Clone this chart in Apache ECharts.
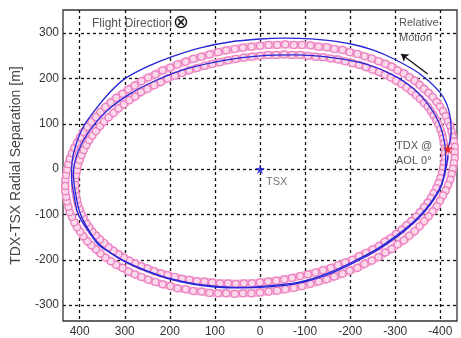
<!DOCTYPE html>
<html>
<head>
<meta charset="utf-8">
<script src="https://cdn.jsdelivr.net/npm/echarts@6/dist/echarts.min.js"></script>
<style>
html,body{margin:0;padding:0;background:#fff;}
#chart{width:461px;height:338px;}
</style>
</head>
<body>
<div id="chart"></div>
<script>
// ---- data ----
const xTicks = [-400, -300, -200, -100, 0, 100, 200, 300, 400];
const yTicks = [-300, -200, -100, 0, 100, 200, 300];

// pink open-marker band, inner row
const pinkInner = [
  [410,-35],[410,-24],[408,-13],[406,-2],[404,9],[400,20],[396,31],[391,42],[385,53],[379,64],[372,74],[364,84],[355,95],[346,105],[336,114],[325,124],[314,134],[302,143],[290,152],[277,160],[264,170],[250,177],[235,185],[220,192],[205,200],[189,206],[173,212],[157,218],[140,223],[123,228],[106,232],[89,236],[71,240],[54,243],[36,246],[18,248],
  [0,250],[-18,252],[-36,252],[-54,253],[-71,252],[-89,252],[-106,250],[-123,248],[-140,247],[-157,244],[-173,242],[-189,238],[-205,234],[-220,230],[-235,225],[-250,219],[-264,214],[-277,208],[-290,202],[-302,195],[-314,188],[-325,180],[-336,172],[-346,163],[-355,155],[-364,146],[-372,138],[-379,128],[-385,119],[-391,108],[-396,99],[-400,88],[-404,77],[-406,68],[-408,57],[-410,46],
  [-410,35],[-410,24],[-408,13],[-406,2],[-404,-9],[-400,-20],[-396,-31],[-391,-42],[-385,-53],[-379,-64],[-372,-74],[-364,-84],[-355,-95],[-346,-105],[-336,-114],[-325,-124],[-314,-134],[-302,-143],[-290,-152],[-277,-160],[-264,-170],[-250,-177],[-235,-185],[-220,-192],[-205,-200],[-189,-206],[-173,-212],[-157,-218],[-140,-223],[-123,-228],[-106,-232],[-89,-236],[-71,-240],[-54,-243],[-36,-246],[-18,-248],
  [0,-250],[18,-252],[36,-252],[54,-253],[71,-252],[89,-252],[106,-250],[123,-248],[140,-247],[157,-244],[173,-242],[189,-238],[205,-234],[220,-230],[235,-225],[250,-219],[264,-214],[277,-208],[290,-202],[302,-195],[314,-188],[325,-180],[336,-172],[346,-163],[355,-155],[364,-146],[372,-138],[379,-128],[385,-119],[391,-108],[396,-99],[400,-88],[404,-77],[406,-68],[408,-57],[410,-46],[410,-35]
];
// pink open-marker band, outer row
const pinkOuter = [
  [432,-37],[432,-25],[430,-13],[428,-1],[425,11],[422,23],[417,35],[412,47],[406,58],[399,70],[392,82],[383,93],[374,104],[364,115],[354,126],[343,137],[331,147],[319,157],[305,166],[292,176],[278,184],[263,194],[248,202],[232,209],[216,218],[199,224],[183,231],[165,237],[148,243],[130,248],[112,253],[93,258],[75,262],[56,265],[38,268],[19,270],
  [0,272],[-19,274],[-38,274],[-56,275],[-75,274],[-93,274],[-112,273],[-130,270],[-148,269],[-165,265],[-183,263],[-199,258],[-216,254],[-232,249],[-248,244],[-263,238],[-278,232],[-292,226],[-305,218],[-319,211],[-331,203],[-343,195],[-354,186],[-364,177],[-374,168],[-383,159],[-392,148],[-399,138],[-406,128],[-412,117],[-417,105],[-422,95],[-425,83],[-428,71],[-430,61],[-432,49],
  [-432,37],[-432,25],[-430,13],[-428,1],[-425,-11],[-422,-23],[-417,-35],[-412,-47],[-406,-58],[-399,-70],[-392,-82],[-383,-93],[-374,-104],[-364,-115],[-354,-126],[-343,-137],[-331,-147],[-319,-157],[-305,-166],[-292,-176],[-278,-184],[-263,-194],[-248,-202],[-232,-209],[-216,-218],[-199,-224],[-183,-231],[-165,-237],[-148,-243],[-130,-248],[-112,-253],[-93,-258],[-75,-262],[-56,-265],[-38,-268],[-19,-270],
  [0,-272],[19,-274],[38,-274],[56,-275],[75,-274],[93,-274],[112,-273],[130,-270],[148,-269],[165,-265],[183,-263],[199,-258],[216,-254],[232,-249],[248,-244],[263,-238],[278,-232],[292,-226],[305,-218],[319,-211],[331,-203],[343,-195],[354,-186],[364,-177],[374,-168],[383,-159],[392,-148],[399,-138],[406,-128],[412,-117],[417,-105],[422,-95],[425,-83],[428,-71],[430,-61],[432,-49],[432,-37]
];
// blue relative-motion track, outer pass (starts at TDX @ AOL 0)
const blueOuter = [
  [-417,45],[-424,80],[-419,129],[-400,168],[-352,212],[-297,243],[-250,263],[-202,276],[-150,284],[-98,288],[-50,289],[0,287],[64,281],[130,268],[198,247],[250,226],[302,198],[340,162],[370,125],[391,95],[408,55],[417,15],[418,-20],[413,-55],[404,-98],[382,-135],[360,-165],[330,-186],[301,-203],[255,-223],[205,-240],[150,-252],[101,-258],[50,-261],[0,-259],[-84,-250],[-150,-230],[-209,-203],[-260,-176],[-305,-145],[-350,-107],[-380,-72],[-402,-35],[-412,0],[-417,30]
];
// blue relative-motion track, inner pass
const blueInner = [
  [-412,10],[-410,55],[-398,100],[-375,140],[-340,178],[-290,210],[-230,233],[-160,246],[-80,252],[0,250],[80,240],[160,222],[230,196],[290,165],[340,128],[380,82],[405,35],[414,-10],[408,-60],[398,-100],[378,-137],[356,-166],[326,-188],[297,-205],[252,-225],[202,-242],[148,-254],[100,-260],[50,-262],[0,-261],[-84,-252],[-150,-233],[-209,-206],[-260,-179],[-305,-148],[-350,-110],[-380,-75],[-402,-38],[-412,10]
];
const tsxPoint = [[0, 0]];
const tdxPoint = [[-417, 45]];
const motionArrow = [[-372, 210], [-313, 254]];

const STAR = 'path://M50,0 L61,35 L98,35 L68,57 L79,91 L50,70 L21,91 L32,57 L2,35 L39,35 Z';
const FONT = 'Liberation Sans';

const chart = echarts.init(document.getElementById('chart'), null, {renderer: 'canvas'});

const pinkSeries = (d) => ({
  type: 'line', data: d, smooth: 0.3, symbol: 'circle', symbolSize: 7, showAllSymbol: true,
  lineStyle: {color: '#f4b3d6', width: 8},
  itemStyle: {color: '#fbd8ea', borderColor: '#eb7fc0', borderWidth: 1.2},
  emphasis: {disabled: true}, z: 2, animation: false
});
const blueSeries = (d) => ({
  type: 'line', data: d, smooth: 0.3, showSymbol: false,
  lineStyle: {color: '#2626d6', width: 1.3},
  emphasis: {disabled: true}, z: 3, animation: false
});

chart.setOption({
  animation: false,
  grid: {left: 63, right: 4, top: 10, bottom: 17, show: true, borderColor: '#333', borderWidth: 1.3, backgroundColor: '#fff'},
  xAxis: {
    type: 'value', inverse: true, min: -437, max: 437,
    axisLine: {show: false},
    axisTick: {show: true, inside: true, length: 4, customValues: xTicks, lineStyle: {color: '#333'}},
    axisLabel: {customValues: xTicks, fontFamily: FONT, fontSize: 12, color: '#333', margin: 5},
    splitLine: {show: true, lineStyle: {color: '#111', width: 1.3, type: [3, 3]}}
  },
  yAxis: {
    type: 'value', min: -335, max: 351,
    name: 'TDX-TSX Radial Separation [m]', nameLocation: 'middle', nameGap: 40,
    nameTextStyle: {fontFamily: FONT, fontSize: 14, color: '#444'},
    axisLine: {show: false},
    axisTick: {show: true, inside: true, length: 4, customValues: yTicks, lineStyle: {color: '#333'}},
    axisLabel: {customValues: yTicks, fontFamily: FONT, fontSize: 12, color: '#333', margin: 4},
    splitLine: {show: true, lineStyle: {color: '#111', width: 1.3, type: [3, 3]}}
  },
  series: [
    pinkSeries(pinkOuter),
    pinkSeries(pinkInner),
    blueSeries(blueOuter),
    blueSeries(blueInner),
    {
      type: 'scatter', data: tsxPoint, symbol: STAR, symbolSize: 10, z: 5,
      itemStyle: {color: '#1a1ae0'},
      label: {show: true, formatter: 'TSX', position: 'right', offset: [-4, 13], fontFamily: FONT, fontSize: 11, color: '#555'}
    },
    {
      type: 'scatter', data: tdxPoint, symbol: STAR, symbolSize: 11, z: 5,
      itemStyle: {color: '#ee1111'},
      markLine: {
        silent: true, animation: false, symbol: ['none', 'arrow'], symbolSize: 7,
        lineStyle: {color: '#111', width: 1.3, type: 'solid'}, label: {show: false},
        data: [[{coord: motionArrow[0]}, {coord: motionArrow[1]}]]
      }
    }
  ],
  graphic: [
    {type: 'text', left: 92, top: 18, style: {text: 'Flight Direction', fontFamily: FONT, fontSize: 12, fill: '#555'}, z: 10},
    {type: 'text', left: 173, top: 14, style: {text: '⊗', fontFamily: 'DejaVu Sans', fontSize: 19, fill: '#111'}, z: 10},
    {type: 'text', left: 399, top: 15, style: {text: 'Relative\nMotion', fontFamily: FONT, fontSize: 11, lineHeight: 15, fill: '#555'}, z: 10},
    {type: 'text', left: 396, top: 138, style: {text: 'TDX @\nAOL 0°', fontFamily: FONT, fontSize: 11, lineHeight: 15, fill: '#555'}, z: 10}
  ]
});
</script>
</body>
</html>
